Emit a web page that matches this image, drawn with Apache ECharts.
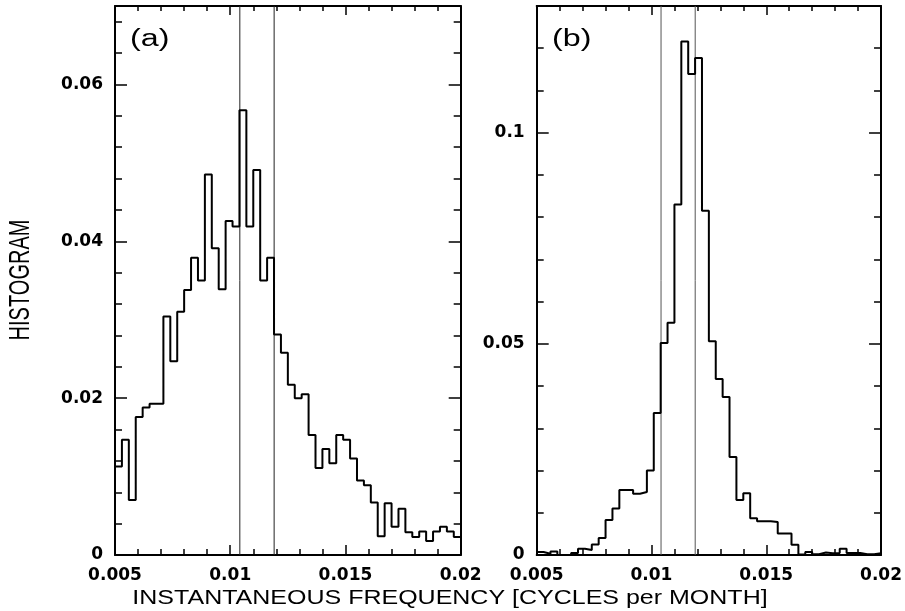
<!DOCTYPE html>
<html>
<head>
<meta charset="utf-8">
<script src="https://cdn.jsdelivr.net/npm/echarts@6/dist/echarts.min.js"></script>
<style>
html,body{margin:0;padding:0;background:#fff;}
#chart{width:905px;height:611px;}
</style>
</head>
<body>
<div id="chart"></div>
<script>
// Histogram binning (cycles per month)
const BIN_START = 0.005;
const BIN_WIDTH = 0.0003;
const X_MIN = 0.005, X_MAX = 0.02;

// Panel (a) histogram heights (50 bins)
const histA = [
  0.0113, 0.0147, 0.0070, 0.0176, 0.0188, 0.0193, 0.0193, 0.0304, 0.0247, 0.0310,
  0.0338, 0.0379, 0.0350, 0.0485, 0.0391, 0.0339, 0.0426, 0.0419, 0.0567, 0.0419,
  0.0491, 0.0350, 0.0379, 0.0281, 0.0258, 0.0217, 0.0200, 0.0205, 0.0153, 0.0111,
  0.0135, 0.0117, 0.0153, 0.0147, 0.0123, 0.0095, 0.0089, 0.0067, 0.0024, 0.0066,
  0.0036, 0.0059, 0.0029, 0.0023, 0.0030, 0.0018, 0.0030, 0.0036, 0.0030, 0.0023
];

// Panel (b) histogram heights (50 bins)
const histB = [
  0.0007, 0.0003, 0.0008, 0.0000, 0.0000, 0.0005, 0.0015, 0.0012, 0.0025, 0.0040,
  0.0083, 0.0110, 0.0154, 0.0154, 0.0145, 0.0149, 0.0200, 0.0336, 0.0502, 0.0550,
  0.0830, 0.1216, 0.1139, 0.1177, 0.0815, 0.0506, 0.0417, 0.0374, 0.0232, 0.0130,
  0.0146, 0.0087, 0.0080, 0.0080, 0.0078, 0.0051, 0.0051, 0.0024, 0.0001, 0.0007,
  0.0002, 0.0006, 0.0004, 0.0005, 0.0015, 0.0005, 0.0005, 0.0002, 0.0002, 0.0004
];

// Vertical reference lines (1/96 and 1/84 cycles per month)
const refLines = [1 / 96, 1 / 84];

// Axis settings
const yMaxA = 0.07, yMajorA = 0.02, yMinorA = 0.004;
const yMaxB = 0.13, yMajorB = 0.05, yMinorB = 0.01;
const xMajor = 0.005, xMinor = 0.001;

const panelLabels = ['(a)', '(b)'];
const yAxisTitle = 'HISTOGRAM';
const xAxisTitle = 'INSTANTANEOUS FREQUENCY [CYCLES per MONTH]';

function stepData(vals) {
  const d = vals.map((v, i) => [BIN_START + BIN_WIDTH * i, v]);
  d.push([X_MAX, vals[vals.length - 1]]);
  return d;
}

const labelStyle = {color: '#000', fontFamily: 'DejaVu Sans', fontWeight: 'bold', fontSize: 17};
const black = '#000';

function xAxes(g) {
  const base = {type: 'value', gridIndex: g, min: X_MIN, max: X_MAX, splitLine: {show: false}};
  return [
    Object.assign({}, base, {position: 'bottom', interval: xMajor,
      axisLine: {show: true, onZero: false, lineStyle: {color: black, width: 2}},
      axisTick: {show: true, inside: true, length: 10, lineStyle: {color: black, width: 1.5}},
      axisLabel: Object.assign({show: true, margin: 12}, labelStyle)}),
    Object.assign({}, base, {position: 'bottom', interval: xMinor,
      axisLine: {show: false, onZero: false},
      axisTick: {show: true, inside: true, length: 6, lineStyle: {color: black, width: 1.5}},
      axisLabel: {show: false}}),
    Object.assign({}, base, {position: 'top', interval: xMajor,
      axisLine: {show: true, onZero: false, lineStyle: {color: black, width: 2}},
      axisTick: {show: true, inside: true, length: 9, lineStyle: {color: black, width: 1.5}},
      axisLabel: {show: false}}),
    Object.assign({}, base, {position: 'top', interval: xMinor,
      axisLine: {show: false, onZero: false},
      axisTick: {show: true, inside: true, length: 5, lineStyle: {color: black, width: 1.5}},
      axisLabel: {show: false}})
  ];
}

function yAxes(g, max, major, minor) {
  const base = {type: 'value', gridIndex: g, min: 0, max: max, splitLine: {show: false}};
  return [
    Object.assign({}, base, {position: 'left', interval: major,
      axisLine: {show: true, onZero: false, lineStyle: {color: black, width: 2}},
      axisTick: {show: true, inside: true, length: 12, lineStyle: {color: black, width: 1.5}},
      axisLabel: Object.assign({show: true, margin: 12, showMaxLabel: false}, labelStyle)}),
    Object.assign({}, base, {position: 'left', interval: minor,
      axisLine: {show: false, onZero: false},
      axisTick: {show: true, inside: true, length: 7, lineStyle: {color: black, width: 1.5}},
      axisLabel: {show: false}}),
    Object.assign({}, base, {position: 'right', interval: major,
      axisLine: {show: true, onZero: false, lineStyle: {color: black, width: 2}},
      axisTick: {show: true, inside: true, length: 12, lineStyle: {color: black, width: 1.5}},
      axisLabel: {show: false}}),
    Object.assign({}, base, {position: 'right', interval: minor,
      axisLine: {show: false, onZero: false},
      axisTick: {show: true, inside: true, length: 7, lineStyle: {color: black, width: 1.5}},
      axisLabel: {show: false}})
  ];
}

function histSeries(vals, g) {
  return {
    type: 'line', step: 'end', xAxisIndex: g * 4, yAxisIndex: g * 4,
    data: stepData(vals), showSymbol: false, symbol: 'none', animation: false,
    lineStyle: {color: black, width: 2}, z: 3
  };
}

function refSeries(v, g, yMax, color) {
  return {
    type: 'line', xAxisIndex: g * 4, yAxisIndex: g * 4,
    data: [[v, 0], [v, yMax]], showSymbol: false, symbol: 'none', animation: false,
    lineStyle: {color: color, width: 1}, z: 2, silent: true
  };
}

const series = [histSeries(histA, 0), histSeries(histB, 1)];
refLines.forEach(v => {
  series.push(refSeries(v, 0, yMaxA, '#222'));
  series.push(refSeries(v, 1, yMaxB, '#555'));
});

const chart = echarts.init(document.getElementById('chart'), null, {renderer: 'canvas'});
chart.setOption({
  backgroundColor: '#fff',
  animation: false,
  grid: [
    {left: 115, top: 6, width: 345.7, height: 549},
    {left: 536.7, top: 6, width: 345, height: 549}
  ],
  xAxis: xAxes(0).concat(xAxes(1)),
  yAxis: yAxes(0, yMaxA, yMajorA, yMinorA).concat(yAxes(1, yMaxB, yMajorB, yMinorB)),
  series: series,
  graphic: [
    {type: 'text', x: 130, y: 40, scaleX: 1.4,
      style: {text: panelLabels[0], font: '23px "Liberation Sans", Arial, sans-serif', fill: '#000', textAlign: 'left', textVerticalAlign: 'middle'}},
    {type: 'text', x: 552, y: 40, scaleX: 1.4,
      style: {text: panelLabels[1], font: '23px "Liberation Sans", Arial, sans-serif', fill: '#000', textAlign: 'left', textVerticalAlign: 'middle'}},
    {type: 'text', x: 21, y: 280, rotation: Math.PI / 2, scaleY: 1.5,
      style: {text: yAxisTitle, font: '20px "Liberation Sans", Arial, sans-serif', fill: '#000', textAlign: 'center', textVerticalAlign: 'middle'}},
    {type: 'text', x: 450, y: 598, scaleX: 1.25,
      style: {text: xAxisTitle, font: '20px "Liberation Sans", Arial, sans-serif', fill: '#000', textAlign: 'center', textVerticalAlign: 'middle'}}
  ]
});
</script>
</body>
</html>
